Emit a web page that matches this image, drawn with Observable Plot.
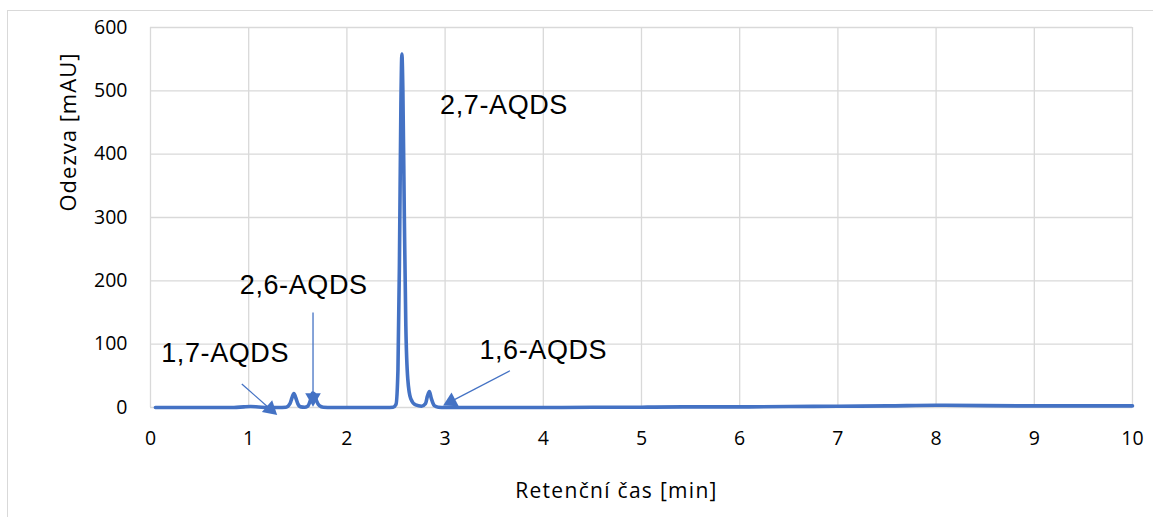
<!DOCTYPE html>
<html><head><meta charset="utf-8">
<script src="https://cdn.jsdelivr.net/npm/d3@7"></script>
<script src="https://cdn.jsdelivr.net/npm/@observablehq/plot@0.6"></script>
<style>
body{margin:0;background:#fff;overflow:hidden;}
#wrap{position:relative;width:1153px;height:517px;overflow:hidden;}
#frame{position:absolute;left:7px;top:10px;width:1160px;height:540px;border:1px solid #d9d9d9;box-sizing:border-box;pointer-events:none;}
#chart{position:absolute;left:0;top:0;}
</style></head><body>
<div id="wrap"><div id="chart"></div><div id="frame"></div></div>
<script>
// Chromatogram (retention time in min, response in mAU)
const time = [0.05,0.5,0.85,0.95,1.02,1.1,1.2,1.3,1.38,1.42,1.44,1.46,1.48,1.5,1.53,1.57,1.6,1.63,1.65,1.67,1.69,1.72,1.76,1.85,2.0,2.2,2.4,2.47,2.5,2.52,2.535,2.55,2.56,2.57,2.585,2.6,2.62,2.65,2.7,2.76,2.8,2.82,2.84,2.86,2.89,2.93,3.0,3.5,4.0,4.5,5.0,5.5,6.0,6.5,7.0,7.5,8.0,8.5,9.0,9.5,10.0];
const response = [0,0,0,1,1.5,0.8,0,0,0.5,6,15,22,15,6,1,0.5,2,12,23,21,11,3,0.5,0,0,0,0,0.5,5,60,230,480,558,500,300,130,45,14,4,2,6,18,25,14,3,0.5,0,0,0,0.3,0.5,1,1,1.5,2,2.5,3.5,3,2.5,2.5,2.5];

const xTicks = [0,1,2,3,4,5,6,7,8,9,10];
const yTicks = [0,100,200,300,400,500,600];
const xTitle = "Retenční čas [min]";
const yTitle = "Odezva [mAU]";

// Peak annotations
const labelNames = ["1,7-AQDS","2,6-AQDS","2,7-AQDS","1,6-AQDS"];
const labelX = [0.76,1.56,3.6,4.0];
const labelY = [85,193,477,90];

// Annotation arrows (start -> tip)
const arrowFromX = [0.93,1.655,3.66];
const arrowFromY = [37,150,58];
const arrowToX = [1.29,1.655,2.98];
const arrowToY = [-12,1,3];

const blue = "#4472C4";
const W = 1153, H = 517, mL = 150, mR = 21, mT = 27, mB = 110;
const xs = d3.scaleLinear([0,10],[mL, W-mR]);
const ys = d3.scaleLinear([0,600],[H-mB, mT]);

const series = time.map((t,i)=>({t, v:response[i]}));
const labels = labelNames.map((n,i)=>({n, x:labelX[i], y:labelY[i]}));
const R = 5.8, tipOff = 1.555*R;
const arrows = arrowFromX.map((x1,i)=>{
  const px1 = xs(x1), py1 = ys(arrowFromY[i]);
  const px2 = xs(arrowToX[i]), py2 = ys(arrowToY[i]);
  const len = Math.hypot(px2-px1, py2-py1);
  const ux = (px2-px1)/len, uy = (py2-py1)/len;
  const ang = Math.atan2(uy, ux)*180/Math.PI + 90;
  return {x1, y1:arrowFromY[i], x2:arrowToX[i], y2:arrowToY[i],
          hx: xs.invert(px2 - ux*tipOff), hy: ys.invert(py2 - uy*tipOff), ang};
});

const chart = Plot.plot({
  width: W, height: H,
  marginLeft: mL, marginRight: mR, marginTop: mT, marginBottom: mB,
  x: {domain:[0,10]},
  y: {domain:[0,600]},
  style: {fontFamily:"'Open Sans', sans-serif", background:"transparent", color:"#000"},
  marks: [
    Plot.gridX(xTicks, {stroke:"#d9d9d9", strokeOpacity:1, strokeWidth:1.3}),
    Plot.gridY(yTicks, {stroke:"#d9d9d9", strokeOpacity:1, strokeWidth:1.3}),
    Plot.axisX(xTicks, {tickSize:0, tickPadding:24, fontSize:19.5, label:null, fill:"#000"}),
    Plot.axisY(yTicks, {tickSize:0, tickPadding:23, fontSize:19.5, label:null, fill:"#000"}),
    Plot.text([xTitle], {frameAnchor:"bottom", dx:-25, dy:90, fontSize:21, fill:"#000"}),
    Plot.text([yTitle], {frameAnchor:"left", rotate:-90, dx:-82, dy:-6, fontSize:22, fill:"#000"}),
    Plot.line(series, {x:"t", y:"v", stroke:blue, strokeWidth:3.6, curve:"monotone-x"}),
    Plot.link(arrows, {x1:"x1", y1:"y1", x2:"hx", y2:"hy", stroke:blue, strokeWidth:1.3}),
    Plot.dot(arrows, {x:"hx", y:"hy", r:R, symbol:"triangle", fill:blue, stroke:"none", rotate:"ang"}),
    Plot.text(labels, {x:"x", y:"y", text:"n", fontSize:27, fontFamily:"'Liberation Sans', Arial, sans-serif", fill:"#000"})
  ]
});
document.getElementById("chart").appendChild(chart);
// slight letter spacing to mimic the wider rendering of the reference
d3.select(chart).selectAll("text").each(function(){
  const t = this.textContent;
  if (labelNames.includes(t)) d3.select(this).style("letter-spacing","0.6px");
  else if (t === xTitle) d3.select(this).style("letter-spacing","1.3px");
  else if (t === yTitle) d3.select(this).style("letter-spacing","1px");
});
</script>
</body></html>
